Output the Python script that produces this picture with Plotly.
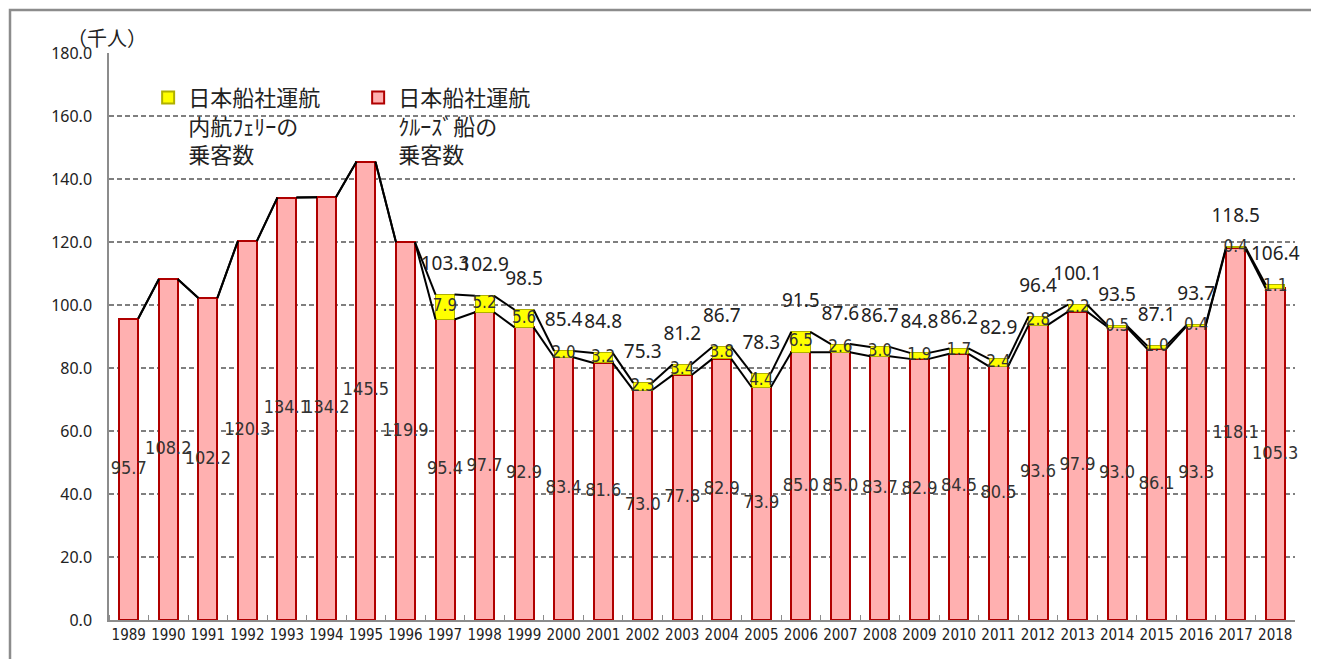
import plotly.graph_objects as go

years = list(range(1989, 2019))
cruise = [95.7, 108.2, 102.2, 120.3, 134.1, 134.2, 145.5, 119.9, 95.4, 97.7,
          92.9, 83.4, 81.6, 73.0, 77.8, 82.9, 73.9, 85.0, 85.0, 83.7,
          82.9, 84.5, 80.5, 93.6, 97.9, 93.0, 86.1, 93.3, 118.1, 105.3]
ferry = [None] * 8 + [7.9, 5.2, 5.6, 2.0, 3.2, 2.3, 3.4, 3.8, 4.4, 6.5,
                      2.6, 3.0, 1.9, 1.7, 2.4, 2.8, 2.2, 0.5, 1.0, 0.4, 0.4, 1.1]
total_labels = [None] * 8 + [103.3, 102.9, 98.5, 85.4, 84.8, 75.3, 81.2, 86.7, 78.3, 91.5,
                             87.6, 86.7, 84.8, 86.2, 82.9, 96.4, 100.1, 93.5, 87.1, 93.7, 118.5, 106.4]
y_ticks = [0, 20, 40, 60, 80, 100, 120, 140, 160, 180]

name_ferry = "日本船社運航<br>内航ﾌｪﾘｰの<br>乗客数"
name_cruise = "日本船社運航<br>ｸﾙｰｽﾞ船の<br>乗客数"

BW = 0.48
NUMFONT = "Liberation Sans Narrow, DejaVu Sans Condensed, Arial Narrow, sans-serif"
CJK = "Noto Sans CJK JP"

ferry_vals = [f if f is not None else 0 for f in ferry]
totals = [c + f for c, f in zip(cruise, ferry_vals)]

fig = go.Figure()

fig.add_trace(go.Bar(
    x=years, y=cruise, width=BW, name=name_cruise, legendrank=2,
    marker=dict(color="#FFB0B0", line=dict(color="#B00000", width=2)),
    hoverinfo="skip",
))
fig.add_trace(go.Bar(
    x=years, y=ferry, width=BW, name=name_ferry, legendrank=1,
    marker=dict(color="#FFFF00", line=dict(color="#B0B000", width=1)),
    hoverinfo="skip",
))

# Series lines (connecting bar edges, Excel style)
def series_line(vals):
    xs, ys = [], []
    for i in range(len(years) - 1):
        xs += [years[i] + BW / 2, years[i + 1] - BW / 2, None]
        ys += [vals[i], vals[i + 1], None]
    return xs, ys

for vals in (cruise, totals):
    xs, ys = series_line(vals)
    fig.add_trace(go.Scatter(x=xs, y=ys, mode="lines", line=dict(color="black", width=2),
                             showlegend=False, hoverinfo="skip"))

# Cruise labels at bar centres
fig.add_trace(go.Scatter(
    x=years, y=[c / 2 for c in cruise], mode="text",
    text=[f"{c:.1f}" for c in cruise],
    textfont=dict(family=NUMFONT, size=18, color="#333333"),
    showlegend=False, hoverinfo="skip", cliponaxis=False,
))
# Ferry labels in the middle of the yellow segment
fx = [y for y, f in zip(years, ferry) if f is not None]
fy = [c + f / 2 for c, f in zip(cruise, ferry) if f is not None]
ft = [f"{f:.1f}" for f in ferry if f is not None]
fig.add_trace(go.Scatter(
    x=fx, y=fy, mode="text", text=ft,
    textfont=dict(family=NUMFONT, size=17, color="#333333"),
    showlegend=False, hoverinfo="skip", cliponaxis=False,
))
# Total labels above
tx = [y for y, t in zip(years, total_labels) if t is not None]
ty = [t for t in total_labels if t is not None]
fig.add_trace(go.Scatter(
    x=tx, y=ty, mode="markers+text", text=[f"{t:.1f}" for t in ty],
    textposition="top center",
    marker=dict(size=30, opacity=0),
    textfont=dict(family="Noto Sans, sans-serif", size=19, color="#222222"),
    showlegend=False, hoverinfo="skip", cliponaxis=False,
))

fig.update_layout(
    width=1311, height=651,
    margin=dict(l=101, r=24, t=45, b=39),
    paper_bgcolor="white", plot_bgcolor="white",
    barmode="stack",
    showlegend=True,
    legend=dict(
        orientation="h", x=0.033, y=0.958, xanchor="left", yanchor="top",
        traceorder="normal", valign="top",
        entrywidth=165, entrywidthmode="pixels",
        font=dict(family=CJK, size=22, color="#222222"),
        bgcolor="rgba(0,0,0,0)", itemsizing="constant",
    ),
    xaxis=dict(
        range=[years[0] - 0.5, years[-1] + 0.5],
        tickmode="array", tickvals=years, ticktext=[str(y) for y in years],
        tickfont=dict(family=NUMFONT, size=15, color="#222222"),
        ticks="", showgrid=False, zeroline=False,
        showline=True, linecolor="#8C8C8C", linewidth=1.5,
        minor=dict(tickmode="array", tickvals=[y + 0.5 for y in years[:-1]] + [years[0] - 0.5],
                   ticks="inside", ticklen=5, tickcolor="#8C8C8C", showgrid=False),
    ),
    yaxis=dict(
        range=[0, 180], tickmode="array", tickvals=y_ticks,
        ticktext=[f"{v:.1f}" for v in y_ticks],
        tickfont=dict(family="Noto Sans, sans-serif", size=16, color="#222222"),
        showgrid=True, gridcolor="#7F7F7F", griddash="5px,3px", gridwidth=1.5,
        zeroline=False, showline=True, linecolor="#8C8C8C", linewidth=1.5,
        ticks="", ticklabelstandoff=12,
    ),
    annotations=[dict(
        text="（千人）", xref="paper", yref="paper", x=-0.002, y=1.028,
        xanchor="center", yanchor="middle", showarrow=False,
        font=dict(family=CJK, size=20, color="#222222"),
    )],
    shapes=[dict(
        type="rect", xref="paper", yref="paper",
        x0=(10 - 109) / 1186, x1=(1315 - 109) / 1186,
        y0=-0.2, y1=(620 - 10) / 567,
        line=dict(color="#8C8C8C", width=2.5), fillcolor="rgba(0,0,0,0)", layer="below",
    )],
)

fig.write_html("out.html")
